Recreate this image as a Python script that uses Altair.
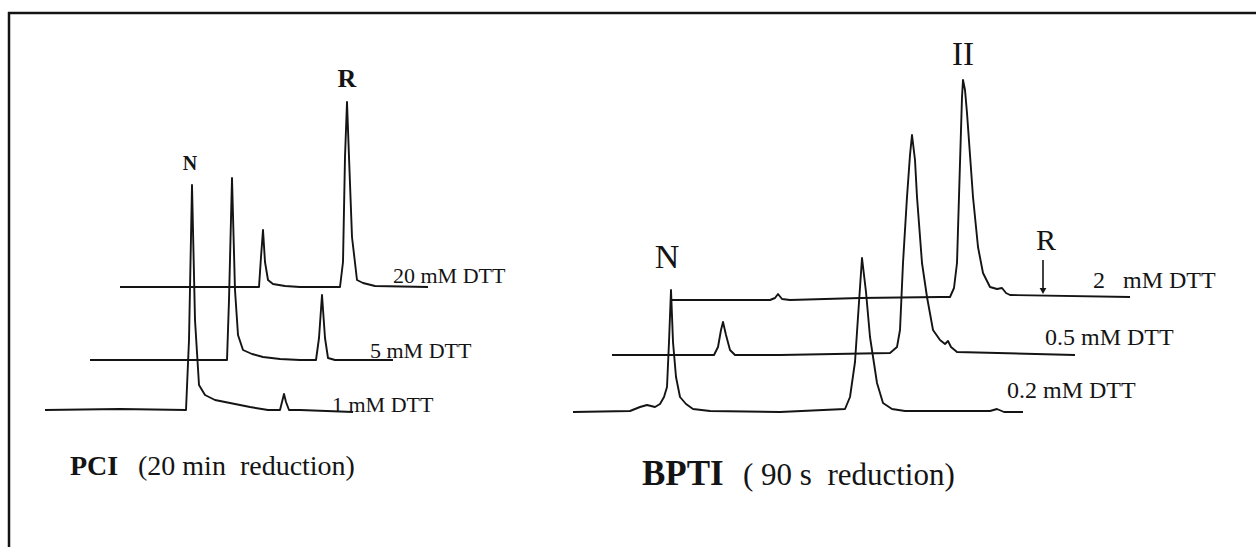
import altair as alt
import pandas as pd

W, H = 1256, 547
FONT = "Liberation Serif"
INK = "#141414"

# ---- PCI, 20 min reduction (retention position, signal above baseline) ----
pci_1_x = [45, 120, 186, 189, 192, 195, 199, 205, 215, 230, 250, 268, 280, 282, 284, 286, 289, 300, 353]
pci_1_h = [0, 1, 0, 70, 225, 90, 25, 15, 10, 7, 3, 0, 0, 8, 16, 8, 0, 0, -2]

pci_5_x = [90, 200, 227, 229, 232, 235, 238, 243, 252, 263, 280, 300, 316, 319, 322, 325, 328, 335, 393]
pci_5_h = [0, 0, 0, 60, 182, 70, 25, 10, 6, 3, 1, 0, 0, 22, 65, 22, 2, 0, 0]

pci_20_x = [120, 200, 259, 261, 263, 265, 268, 273, 285, 300, 340, 343, 345, 347, 349, 352, 357, 363, 375, 428]
pci_20_h = [0, 0, 0, 30, 57, 25, 7, 3, 1, 0, 0, 25, 130, 185, 130, 50, 7, 4, 1, 0]

# ---- BPTI, 90 s reduction ----
bpti_02_x = [573, 630, 640, 647, 655, 660, 664, 667, 669, 671, 673, 676, 680, 686, 693, 710, 780,
             845, 850, 855, 858, 862, 866, 870, 877, 883, 892, 905, 990, 997, 1004, 1023]
bpti_02_h = [0, 1, 5, 7, 5, 8, 15, 25, 70, 122, 70, 35, 15, 8, 3, 1, 0,
             3, 15, 50, 95, 154, 120, 75, 29, 9, 3, 1, 1, 3, 0, 0]

bpti_05_x = [612, 700, 714, 718, 721, 723, 726, 730, 735, 780, 890, 897, 900, 903, 907, 910, 912,
             915, 917, 922, 927, 933, 940, 945, 948, 951, 957, 1075]
bpti_05_h = [0, 0, 0, 8, 25, 33, 20, 5, 0, 0, 2, 8, 25, 92, 158, 200, 220,
             195, 158, 92, 58, 25, 15, 11, 14, 8, 3, 0]

bpti_2_x = [672, 700, 770, 775, 778, 782, 790, 860, 940, 950, 954, 957, 960, 962, 963, 965, 967,
            970, 973, 978, 983, 990, 997, 1002, 1006, 1010, 1130]
bpti_2_h = [0, 0, 0, 2, 6, 1, 0, 2, 3, 3, 12, 37, 137, 203, 220, 210, 187,
            145, 103, 53, 27, 13, 11, 12, 7, 5, 3]

# trace name, baseline level, positions, signal
traces = [
    ("PCI 1 mM", 137, pci_1_x, pci_1_h),
    ("PCI 5 mM", 187, pci_5_x, pci_5_h),
    ("PCI 20 mM", 260, pci_20_x, pci_20_h),
    ("BPTI 0.2 mM", 135, bpti_02_x, bpti_02_h),
    ("BPTI 0.5 mM", 192, bpti_05_x, bpti_05_h),
    ("BPTI 2 mM", 247, bpti_2_x, bpti_2_h),
]

rows = []
for name, base, xs_, hs_ in traces:
    for i, (x, h) in enumerate(zip(xs_, hs_)):
        rows.append({"trace": name, "t": x, "signal": base + h, "i": i})
df = pd.DataFrame(rows)

xsc = alt.Scale(domain=[0, W], nice=False, zero=False)
ysc = alt.Scale(domain=[0, H], nice=False, zero=False)

lines = alt.Chart(df).mark_line(color=INK, strokeWidth=1.9, strokeJoin="round").encode(
    x=alt.X("t:Q", scale=xsc, axis=None),
    y=alt.Y("signal:Q", scale=ysc, axis=None),
    detail="trace:N",
    order="i:Q",
)

NB = "\u00a0"
# text, x, baseline y, size, weight, align
labels = [
    ("R", 347, 460, 26, "bold", "center"),
    ("N", 190, 377, 20, "bold", "center"),
    ("20 mM DTT", 393, 264, 22, "normal", "left"),
    ("5 mM DTT", 370, 189, 22, "normal", "left"),
    ("1 mM DTT", 332, 135, 22, "normal", "left"),
    ("PCI", 70, 72, 28, "bold", "left"),
    ("(20 min" + NB + NB + "reduction)", 138, 72, 28, "normal", "left"),
    ("N", 667, 279, 34, "normal", "center"),
    ("II", 963, 482, 33, "normal", "center"),
    ("R", 1046, 297, 30, "normal", "center"),
    ("2" + NB + NB + NB + "mM DTT", 1093, 259, 24, "normal", "left"),
    ("0.5 mM DTT", 1045, 202, 24, "normal", "left"),
    ("0.2 mM DTT", 1007, 149, 24, "normal", "left"),
    ("BPTI", 642, 62, 35, "bold", "left"),
    ("(" + NB + "90 s" + NB + NB + "reduction)", 743, 62, 31, "normal", "left"),
]

layers = [lines]
for text, x, y, size, weight, align in labels:
    layers.append(
        alt.Chart(pd.DataFrame({"x": [x], "y": [y], "label": [text]}))
        .mark_text(font=FONT, fontSize=size, fontWeight=weight, align=align,
                   baseline="alphabetic", color=INK)
        .encode(x=alt.X("x:Q", scale=xsc), y=alt.Y("y:Q", scale=ysc), text="label:N")
    )

# arrow marking the R position on the 2 mM BPTI trace
arrow = pd.DataFrame({"x": [1043], "y": [287], "y2": [256]})
layers.append(
    alt.Chart(arrow).mark_rule(color=INK, strokeWidth=1.6).encode(
        x=alt.X("x:Q", scale=xsc), y=alt.Y("y:Q", scale=ysc), y2="y2:Q")
)
layers.append(
    alt.Chart(arrow).mark_point(shape="triangle-down", filled=True, color=INK, size=45, opacity=1).encode(
        x=alt.X("x:Q", scale=xsc), y=alt.Y("y2:Q", scale=ysc))
)

# frame lines along the top and left edges
layers.append(
    alt.Chart(pd.DataFrame({"a": [0]})).mark_rule(color=INK, strokeWidth=2.5).encode(
        x=alt.value(8), x2=alt.value(W), y=alt.value(13))
)
layers.append(
    alt.Chart(pd.DataFrame({"a": [0]})).mark_rule(color=INK, strokeWidth=2.5).encode(
        x=alt.value(9), y=alt.value(12), y2=alt.value(H))
)

chart = (
    alt.layer(*layers)
    .properties(width=W, height=H, padding=0, autosize=alt.AutoSizeParams(type="none"),
                background="white")
    .configure_view(stroke=None)
)

chart.save("out.html", embed_options={"renderer": "svg", "actions": False})
